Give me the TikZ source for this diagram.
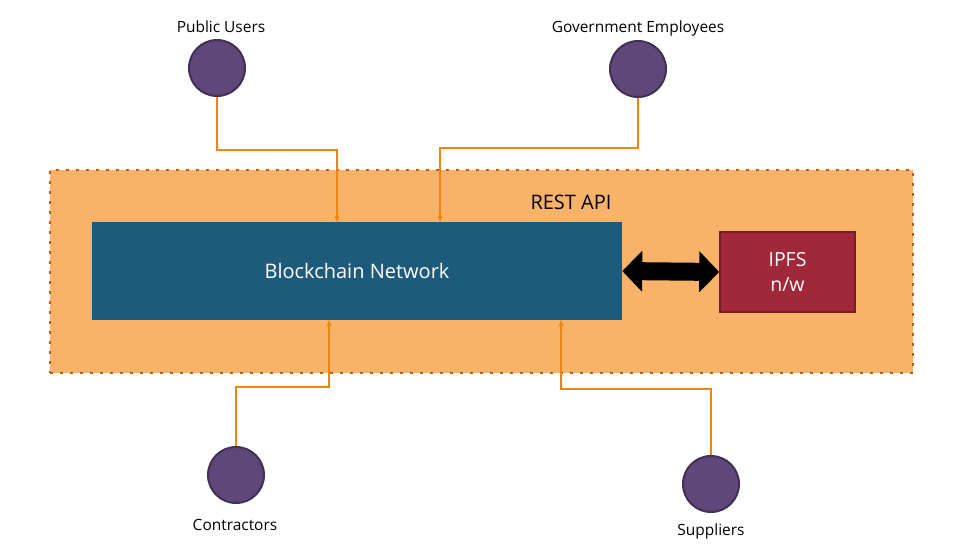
\documentclass[tikz,border=0pt]{standalone}
\usepackage{fontspec}
\setmainfont{Open Sans}
\usetikzlibrary{arrows.meta}
\definecolor{restfill}{HTML}{F9B26A}
\definecolor{restdot}{HTML}{B8600A}
\definecolor{bcblue}{HTML}{1E5A7C}
\definecolor{ipfsred}{HTML}{A12838}
\definecolor{ipfsborder}{HTML}{7A1C28}
\definecolor{userfill}{HTML}{5F4879}
\definecolor{userborder}{HTML}{413055}
\definecolor{linkorange}{HTML}{F08410}
\tikzset{
  actor/.style={circle, fill=userfill, draw=userborder, line width=1.5pt, minimum size=42pt, inner sep=0pt},
  actorlabel/.style={font=\fontsize{11.6}{13}\selectfont, text=black, inner sep=0pt},
  link/.style={draw=linkorange, line width=0.9pt, -{Stealth[length=5pt,width=4pt]}},
}
\begin{document}
\begin{tikzpicture}[x=0.75pt,y=-0.75pt]
\useasboundingbox (0,0) rectangle (978,558);
% REST API container
\node[fill=restfill, draw=restdot, line width=2pt, dash pattern=on 2pt off 5.5pt,
      minimum width=647.25pt, minimum height=152.25pt, inner sep=0pt] (rest) at (481.5,271.5) {};
\node[font=\fontsize{15}{16}\selectfont, inner sep=0pt] (restlabel) at (571,202) {REST API};
% Blockchain
\node[fill=bcblue, minimum width=397.5pt, minimum height=73.5pt, inner sep=0pt,
      text=white, font=\fontsize{15}{16}\selectfont] (bc) at (357,271) {Blockchain Network};
% IPFS
\node[fill=ipfsred, draw=ipfsborder, line width=1.2pt, minimum width=101.25pt, minimum height=60pt,
      inner sep=0pt, text=white, align=center, font=\fontsize{14.6}{19}\selectfont] (ipfs) at (787.5,272) {IPFS\\n/w};
% double arrow
\draw[line width=13.5pt, {Triangle[length=15pt,width=30pt]}-{Triangle[length=15pt,width=30pt]}] (bc.east) -- (ipfs.west);
% actors
\node[actor] (pub) at (217,68) {};
\node[actorlabel] (publ) at (221,27) {Public Users};
\node[actor] (gov) at (638,69) {};
\node[actorlabel] (govl) at (638,28) {Government Employees};
\node[actor] (con) at (236,475) {};
\node[actorlabel] (conl) at (235,525) {Contractors};
\node[actor] (sup) at (711,484) {};
\node[actorlabel] (supl) at (711,531) {Suppliers};
% connectors
\draw[link] (pub.south) |- (337,150) -- (337,222);
\draw[link] (gov.south) |- (440,148) -- (440,222);
\draw[link] (con.north) |- (329,387) -- (329,320);
\draw[link] (sup.north) |- (561,389) -- (561,320);
\end{tikzpicture}
\end{document}
